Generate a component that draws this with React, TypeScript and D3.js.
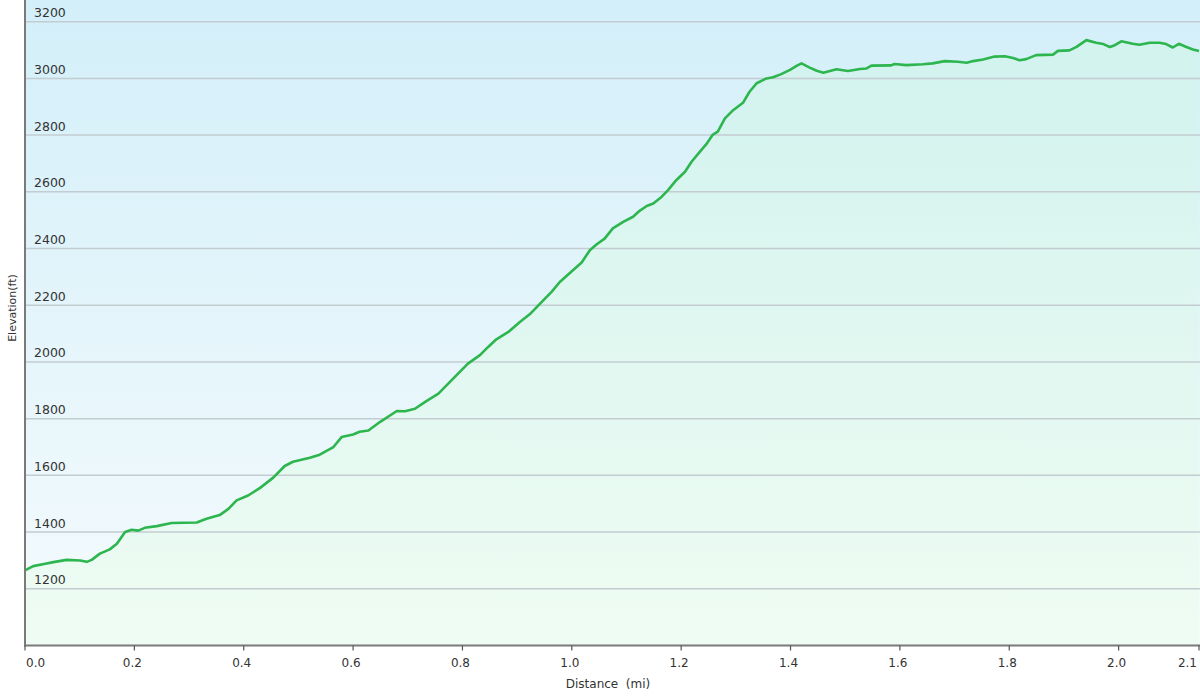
import React from "react";
import * as d3 from "d3";

const distanceMi = [
  0.000, 0.015, 0.037, 0.052, 0.076, 0.101, 0.113, 0.122, 0.137, 0.155, 0.168, 0.183, 0.195, 0.207,
  0.219, 0.241, 0.268, 0.314, 0.332, 0.356, 0.372, 0.387, 0.408, 0.430, 0.454, 0.475, 0.490, 0.521,
  0.539, 0.564, 0.579, 0.600, 0.612, 0.628, 0.649, 0.680, 0.695, 0.713, 0.734, 0.756, 0.783, 0.810,
  0.832, 0.847, 0.862, 0.884, 0.905, 0.923, 0.942, 0.963, 0.978, 0.999, 1.018, 1.033, 1.045, 1.060,
  1.075, 1.094, 1.112, 1.124, 1.137, 1.149, 1.164, 1.176, 1.191, 1.207, 1.219, 1.234, 1.246, 1.258,
  1.267, 1.280, 1.295, 1.313, 1.325, 1.338, 1.356, 1.368, 1.383, 1.399, 1.411, 1.420, 1.435, 1.448,
  1.460, 1.484, 1.505, 1.527, 1.539, 1.548, 1.584, 1.590, 1.612, 1.642, 1.660, 1.682, 1.706, 1.722,
  1.734, 1.752, 1.773, 1.792, 1.807, 1.819, 1.831, 1.849, 1.880, 1.889, 1.910, 1.923, 1.941, 1.959,
  1.972, 1.984, 1.993, 2.005, 2.026, 2.038, 2.057, 2.075, 2.087, 2.099, 2.110, 2.124, 2.136, 2.147,
];

const elevationFt = [
  1265, 1280, 1288, 1294, 1302, 1300, 1295, 1302, 1324, 1339, 1359, 1400, 1408, 1405,
  1415, 1421, 1432, 1434, 1447, 1460, 1482, 1512, 1529, 1556, 1592, 1633, 1648, 1662,
  1673, 1700, 1735, 1744, 1754, 1758, 1788, 1827, 1826, 1835, 1862, 1888, 1941, 1994,
  2024, 2053, 2080, 2106, 2141, 2168, 2206, 2247, 2282, 2318, 2351, 2394, 2414, 2435,
  2471, 2494, 2512, 2533, 2550, 2559, 2582, 2606, 2641, 2671, 2706, 2741, 2768, 2802,
  2812, 2859, 2888, 2914, 2953, 2983, 3000, 3004, 3015, 3030, 3044, 3053, 3038, 3027,
  3020, 3032, 3026, 3033, 3035, 3045, 3046, 3051, 3047, 3050, 3053, 3061, 3059, 3055,
  3061, 3067, 3077, 3078, 3072, 3064, 3068, 3082, 3084, 3097, 3099, 3111, 3135, 3126,
  3121, 3111, 3117, 3131, 3122, 3119, 3126, 3126, 3121, 3109, 3122, 3111, 3102, 3097,
];

const yTicks = [1200, 1400, 1600, 1800, 2000, 2200, 2400, 2600, 2800, 3000, 3200];
const xTicks = [0.0, 0.2, 0.4, 0.6, 0.8, 1.0, 1.2, 1.4, 1.6, 1.8, 2.0];
const xEndLabel = "2.1";
const yTitle = "Elevation(ft)";
const xTitle = "Distance  (mi)";

const W = 1200;
const H = 700;
const left = 25;
const right = 1199;
const bottom = 645.5;
const top = 0;

export default function App() {
  const xMax = distanceMi[distanceMi.length - 1];
  const x = d3.scaleLinear().domain([0, xMax]).range([left, right]);
  const y = d3.scaleLinear().domain([1000, 3200]).range([bottom, 21.7]);

  const pts = distanceMi.map((d, i) => [d, elevationFt[i]] as [number, number]);
  const line = d3
    .line<[number, number]>()
    .x((d) => x(d[0]))
    .y((d) => y(d[1]))
    .curve(d3.curveLinear);
  const area = d3
    .area<[number, number]>()
    .x((d) => x(d[0]))
    .y0(bottom)
    .y1((d) => y(d[1]))
    .curve(d3.curveLinear);

  const font = "'DejaVu Sans', Verdana, sans-serif";

  return (
    <svg
      width={W}
      height={H}
      style={{ position: "absolute", left: 0, top: 0, background: "#fff" }}
    >
      <defs>
        <linearGradient id="bg" gradientUnits="userSpaceOnUse" x1="0" y1={top} x2="0" y2={bottom}>
          <stop offset="0" stopColor="#d3eff9" />
          <stop offset="1" stopColor="#f5fbfd" />
        </linearGradient>
        <linearGradient id="ar" gradientUnits="userSpaceOnUse" x1="0" y1={top} x2="0" y2={bottom}>
          <stop offset="0" stopColor="#d0f2ee" />
          <stop offset="1" stopColor="#effcf3" />
        </linearGradient>
      </defs>
      <rect x={left} y={top} width={W - left} height={bottom - top} fill="url(#bg)" />
      <path d={area(pts) || ""} fill="url(#ar)" />
      {yTicks.map((t) => (
        <g key={t}>
          <line x1={left} x2={W} y1={y(t)} y2={y(t)} stroke="#c3ccd0" strokeWidth={1.5} />
          <text
            x={34}
            y={y(t) - 4.5}
            fontFamily={font}
            fontSize={12.5}
            fill="#333"
          >
            {t}
          </text>
        </g>
      ))}
      <path d={line(pts) || ""} fill="none" stroke="#2db54e" strokeWidth={2.6} strokeLinejoin="round" />
      <line x1={left} x2={left} y1={0} y2={bottom + 1} stroke="#7a7a7a" strokeWidth={2} />
      <line x1={left - 1} x2={W} y1={bottom} y2={bottom} stroke="#7a7a7a" strokeWidth={2} />
      {xTicks.map((t, i) => (
        <g key={t}>
          <line x1={x(t)} x2={x(t)} y1={bottom} y2={bottom + 5} stroke="#555" strokeWidth={1.2} />
          <text
            x={i === 0 ? left + 1 : x(t) - 2}
            y={667}
            textAnchor={i === 0 ? "start" : "middle"}
            fontFamily={font}
            fontSize={12}
            fill="#333"
          >
            {t.toFixed(1)}
          </text>
        </g>
      ))}
      <line x1={right} x2={right} y1={bottom} y2={bottom + 5} stroke="#555" strokeWidth={1.2} />
      <text x={1197} y={667} textAnchor="end" fontFamily={font} fontSize={12} fill="#333">
        {xEndLabel}
      </text>
      <text
        transform="translate(16,308) rotate(-90)"
        textAnchor="middle"
        fontFamily={font}
        fontSize={11}
        fill="#333"
      >
        {yTitle}
      </text>
      <text
        x={608}
        y={688}
        textAnchor="middle"
        fontFamily={font}
        fontSize={12}
        fill="#333"
        style={{ whiteSpace: "pre" }}
      >
        {xTitle}
      </text>
    </svg>
  );
}
